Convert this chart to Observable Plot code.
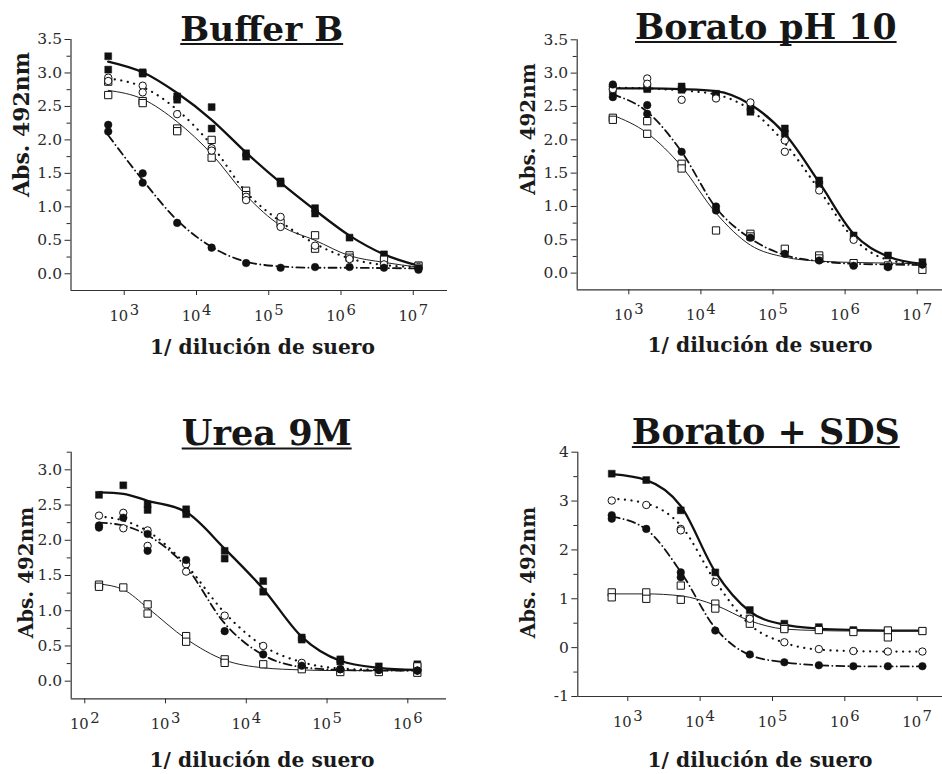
<!DOCTYPE html>
<html>
<head>
<meta charset="utf-8">
<script src="https://cdn.jsdelivr.net/npm/d3@7"></script>
<script src="https://cdn.jsdelivr.net/npm/@observablehq/plot@0.6"></script>
<style>
  html, body { margin: 0; padding: 0; background: #fff; }
  #root { position: relative; width: 942px; height: 774px; overflow: hidden; background: #fff; }
  .panel { position: absolute; }
  .panel svg { display: block; max-width: none !important; }
  #overlay { position: absolute; left: 0; top: 0; pointer-events: none; }
</style>
</head>
<body>
<div id="root"></div>
<script>
// ---------------- DATA ----------------
const dilution = [600, 1800, 5400, 16200, 48600, 145800, 437400, 1312200, 3936600, 11809800];
const dilutionUrea = [150, 300, 600, 1800, 5400, 16200, 48600, 145800, 437400, 1312200];

const xTicks = [1e3, 1e4, 1e5, 1e6, 1e7];
const xTicksUrea = [1e2, 1e3, 1e4, 1e5, 1e6];
const yTicksMain = [0, 0.5, 1, 1.5, 2, 2.5, 3, 3.5];
const yMinorMain = [0.25, 0.75, 1.25, 1.75, 2.25, 2.75, 3.25];
const yTicksUrea = [0, 0.5, 1, 1.5, 2, 2.5, 3];
const yMinorUrea = [0.25, 0.75, 1.25, 1.75, 2.25, 2.75, 3.25];
const yTicksSDS = [-1, 0, 1, 2, 3, 4];
const yMinorSDS = [-0.5, 0.5, 1.5, 2.5, 3.5];

const titles = ["Buffer B", "Borato pH 10", "Urea 9M", "Borato + SDS"];
const xLabel = "1/ dilución de suero";
const yLabel = "Abs. 492nm";

// Buffer B — replicate readings per dilution, and the fitted curve read at each dilution
const bufB_filledSq = [[3.25, 3.05], [3.01, 2.99], [2.65, 2.6], [2.49, 2.17], [1.8, 1.75], [1.38, 1.35], [0.98, 0.9], [0.54], [0.29], [0.125]];
const bufB_filledSq_fit = [3.17, 3.01, 2.7, 2.3, 1.81, 1.36, 0.95, 0.57, 0.29, 0.12];
const bufB_openCir = [[2.93, 2.88], [2.81, 2.71], [2.385], [1.875, 1.84], [1.15, 1.1], [0.85, 0.7], [0.42], [0.22], [0.14], [0.1]];
const bufB_openCir_fit = [2.92, 2.79, 2.45, 1.92, 1.22, 0.78, 0.45, 0.23, 0.13, 0.1];
const bufB_openSq = [[2.87, 2.67], [2.58, 2.55], [2.17, 2.13], [2.0, 1.735], [1.24, 1.175], [0.76], [0.575, 0.375], [0.275, 0.24], [0.21], [0.12]];
const bufB_openSq_fit = [2.74, 2.61, 2.27, 1.79, 1.17, 0.72, 0.5, 0.27, 0.17, 0.1];
const bufB_filledCir = [[2.225, 2.125], [1.5, 1.36], [0.76], [0.39], [0.16], [0.09], [0.1], [0.1], [0.09], [0.08, 0.06]];
const bufB_filledCir_fit = [2.07, 1.4, 0.8, 0.4, 0.18, 0.11, 0.09, 0.09, 0.085, 0.08];

// Borato pH 10
const borato_filledSq = [[2.78, 2.72], [2.78, 2.76], [2.8, 2.75], [2.69, 2.66], [2.49, 2.42], [2.17, 2.09], [1.39, 1.33], [0.565], [0.265], [0.165]];
const borato_filledSq_fit = [2.77, 2.77, 2.76, 2.73, 2.53, 2.09, 1.36, 0.59, 0.25, 0.14];
const borato_openCir = [[2.8, 2.76], [2.92, 2.84], [2.6], [2.62], [2.56], [1.99, 1.82], [1.24], [0.5], [0.09], [0.13]];
const borato_openCir_fit = [2.78, 2.77, 2.74, 2.68, 2.45, 1.95, 1.25, 0.52, 0.2, 0.13];
const borato_openSq = [[2.33, 2.3], [2.28, 2.09], [1.64, 1.57], [0.64], [0.59, 0.55], [0.365], [0.265, 0.22], [0.15], [0.115], [0.05]];
const borato_openSq_fit = [2.37, 2.1, 1.6, 0.9, 0.42, 0.24, 0.18, 0.16, 0.15, 0.14];
const borato_filledCir = [[2.83, 2.64], [2.52, 2.39], [1.82], [1.0, 0.94], [0.53], [0.29], [0.19], [0.11], [0.1], [0.13]];
const borato_filledCir_fit = [2.68, 2.42, 1.82, 0.98, 0.52, 0.27, 0.18, 0.14, 0.13, 0.12];

// Urea 9M
const urea_filledSq = [[2.645], [2.78], [2.51, 2.43], [2.44, 2.37], [1.85, 1.74], [1.42, 1.27], [0.62, 0.59], [0.31, 0.28], [0.21], [0.24, 0.2]];
const urea_filledSq_fit = [2.68, 2.66, 2.56, 2.4, 1.88, 1.31, 0.63, 0.29, 0.19, 0.16];
const urea_openCir = [[2.35], [2.39, 2.17], [2.14, 1.92], [1.66, 1.555], [0.93], [0.5], [0.26], [0.17], [0.16], [0.15]];
const urea_openCir_fit = [2.34, 2.28, 2.13, 1.65, 0.97, 0.5, 0.27, 0.18, 0.16, 0.15];
const urea_openSq = [[1.37, 1.34], [1.33], [1.09, 0.96], [0.64, 0.56], [0.31, 0.26], [0.24], [0.17], [0.13], [0.13], [0.21, 0.12]];
const urea_openSq_fit = [1.38, 1.3, 1.04, 0.6, 0.3, 0.19, 0.16, 0.15, 0.15, 0.15];
const urea_filledCir = [[2.21, 2.18], [2.32], [2.09, 1.85], [1.72], [0.71], [0.38], [0.22], [0.17], [0.16], [0.15]];
const urea_filledCir_fit = [2.25, 2.21, 2.07, 1.62, 0.82, 0.37, 0.2, 0.16, 0.15, 0.15];

// Borato + SDS
const sds_filledSq = [[3.56], [3.43], [2.81], [1.54], [0.77], [0.49], [0.42], [0.36], [0.35], [0.34]];
const sds_filledSq_fit = [3.55, 3.43, 2.9, 1.55, 0.74, 0.47, 0.39, 0.36, 0.35, 0.35];
const sds_openCir = [[3.01], [2.92], [2.43, 2.4], [1.34], [0.59], [0.11], [-0.03], [-0.07], [-0.08], [-0.08]];
const sds_openCir_fit = [3.05, 2.95, 2.5, 1.36, 0.47, 0.1, -0.04, -0.07, -0.08, -0.08];
const sds_openSq = [[1.13, 1.03], [1.13, 1.0], [1.27, 0.98], [0.9, 0.8], [0.59, 0.49], [0.41, 0.38], [0.36], [0.32], [0.35, 0.21], [0.34]];
const sds_openSq_fit = [1.1, 1.1, 1.06, 0.87, 0.55, 0.38, 0.35, 0.34, 0.34, 0.34];
const sds_filledCir = [[2.71, 2.64], [2.43], [1.54, 1.44], [0.35], [-0.14], [-0.3], [-0.36], [-0.38], [-0.38], [-0.38]];
const sds_filledCir_fit = [2.68, 2.42, 1.55, 0.4, -0.15, -0.3, -0.36, -0.38, -0.385, -0.385];

// ---------------- FONT PICK (first installed serif face) ----------------
const ctx = document.createElement("canvas").getContext("2d");
function pickSerif() {
  const cands = ["DejaVu Serif", "Liberation Serif", "Tinos", "Nimbus Roman", "FreeSerif", "Noto Serif"];
  const probe = "AbgBorato 0123456789 dilución WMmil";
  const widthWith = f => { ctx.font = "bold 40px " + f; return ctx.measureText(probe).width; };
  const bases = ["monospace", "sans-serif"].map(widthWith);
  for (const name of cands) {
    const ws = ["monospace", "sans-serif"].map(b => widthWith(`"${name}", ${b}`));
    if (ws.every((w, i) => Math.abs(w - bases[i]) > 0.01)) return `"${name}"`;
  }
  return "serif";
}
const FONT = pickSerif() + ", serif";
// size that gives a text the width it has in the reference
function fitSize(str, targetWidth, weight) {
  ctx.font = `${weight} 100px ${FONT}`;
  return 100 * targetWidth / ctx.measureText(str).width;
}
const tickSize = fitSize("0123456789", 10 * 9.4, "normal");

// ---------------- STYLES / LAYOUT ----------------
const INK = "#111";
const seriesStyle = {
  filledSquare: { line: { stroke: INK, strokeWidth: 2.3 }, dot: { symbol: "square", r: 3.9, fill: INK, stroke: INK, strokeWidth: 0.5 } },
  openSquare:   { line: { stroke: "#222", strokeWidth: 1 }, dot: { symbol: "square", r: 4.1, fill: "white", stroke: INK, strokeWidth: 1 } },
  openCircle:   { line: { stroke: INK, strokeWidth: 2.2, strokeDasharray: "0.1,6.5", strokeLinecap: "round" }, dot: { symbol: "circle", r: 3.7, fill: "white", stroke: INK, strokeWidth: 1 } },
  filledCircle: { line: { stroke: INK, strokeWidth: 1.8, strokeDasharray: "8,4,0.1,4", strokeLinecap: "round" }, dot: { symbol: "circle", r: 3.8, fill: INK, stroke: INK, strokeWidth: 0.5 } }
};
const drawOrder = ["filledSquare", "openSquare", "openCircle", "filledCircle"];

const panels = [
  { title: titles[0], x: dilution, xTicks, yTicks: yTicksMain, yMinor: yMinorMain,
    xDomain: [10 ** 2.263, 10 ** 7.474], yDomain: [-0.25, 3.5],
    box: { left: 0, top: 0, width: 470, height: 370 }, margin: { left: 70.5, right: 23, top: 39, bottom: 80 },
    series: { filledSquare: [bufB_filledSq, bufB_filledSq_fit], openCircle: [bufB_openCir, bufB_openCir_fit], openSquare: [bufB_openSq, bufB_openSq_fit], filledCircle: [bufB_filledCir, bufB_filledCir_fit] },
    text: { titleX: 261.7, titleBase: 40.5, titleW: 163, xLabX: 262.5, xLabBase: 354, yLabX: 29.3, yLabY: 124.5, yLabW: 145 } },
  { title: titles[1], x: dilution, xTicks, yTicks: yTicksMain, yMinor: yMinorMain,
    xDomain: [10 ** 2.284, 10 ** 7.351], yDomain: [-0.25, 3.5],
    box: { left: 470, top: 0, width: 472, height: 370 }, margin: { left: 106.7, right: 0, top: 39.3, bottom: 80.7 },
    series: { filledSquare: [borato_filledSq, borato_filledSq_fit], openCircle: [borato_openCir, borato_openCir_fit], openSquare: [borato_openSq, borato_openSq_fit], filledCircle: [borato_filledCir, borato_filledCir_fit] },
    text: { titleX: 765.8, titleBase: 38.5, titleW: 261.7, xLabX: 760, xLabBase: 352.3, yLabX: 535, yLabY: 129, yLabW: 131.6 } },
  { title: titles[2], x: dilutionUrea, xTicks: xTicksUrea, yTicks: yTicksUrea, yMinor: yMinorUrea,
    xDomain: [10 ** 1.832, 10 ** 6.479], yDomain: [-0.25, 3.25],
    box: { left: 0, top: 390, width: 470, height: 384 }, margin: { left: 70.7, right: 24, top: 61.7, bottom: 75.7 },
    series: { filledSquare: [urea_filledSq, urea_filledSq_fit], openCircle: [urea_openCir, urea_openCir_fit], openSquare: [urea_openSq, urea_openSq_fit], filledCircle: [urea_filledCir, urea_filledCir_fit] },
    text: { titleX: 266.7, titleBase: 445, titleW: 170, xLabX: 262, xLabBase: 766.5, yLabX: 33.3, yLabY: 572.5, yLabW: 131.6 } },
  { title: titles[3], x: dilution, xTicks, yTicks: yTicksSDS, yMinor: yMinorSDS,
    xDomain: [10 ** 2.309, 10 ** 7.35], yDomain: [-1, 4],
    box: { left: 470, top: 390, width: 472, height: 384 }, margin: { left: 107.3, right: 0, top: 61.7, bottom: 78 },
    series: { filledSquare: [sds_filledSq, sds_filledSq_fit], openCircle: [sds_openCir, sds_openCir_fit], openSquare: [sds_openSq, sds_openSq_fit], filledCircle: [sds_filledCir, sds_filledCir_fit] },
    text: { titleX: 765.8, titleBase: 443.5, titleW: 268, xLabX: 760, xLabBase: 767, yLabX: 535, yLabY: 572.5, yLabW: 131.6 } }
];

const root = document.getElementById("root");
root.style.fontFamily = FONT;
const SVGNS = "http://www.w3.org/2000/svg";

function yFmt(p) {
  return p.yDomain[0] === -1 ? (d => String(d)) : d3.format(".1f");
}

for (const p of panels) {
  const lineMarks = [], dotMarks = [];
  for (const key of drawOrder) {
    const [pts, fit] = p.series[key];
    const st = seriesStyle[key];
    const fitData = fit.map((v, i) => ({ x: p.x[i], y: v }));
    const ptData = pts.flatMap((reps, i) => reps.map(v => ({ x: p.x[i], y: v })));
    lineMarks.push(Plot.line(fitData, { x: "x", y: "y", curve: "monotone-x", ...st.line }));
    dotMarks.push(Plot.dot(ptData, { x: "x", y: "y", ...st.dot }));
  }
  const svg = Plot.plot({
    width: p.box.width,
    height: p.box.height,
    marginLeft: p.margin.left,
    marginRight: p.margin.right,
    marginTop: p.margin.top,
    marginBottom: p.margin.bottom,
    style: { fontFamily: FONT, fontSize: tickSize + "px", color: "#2a2a2a", background: "transparent", overflow: "visible" },
    x: { type: "log", domain: p.xDomain },
    y: { domain: p.yDomain },
    marks: [
      Plot.axisY({ ticks: p.yMinor, tickSize: 4, tickFormat: () => "", label: null, strokeWidth: 1 }),
      Plot.axisY({ ticks: p.yTicks, tickSize: 6, tickPadding: 3, tickFormat: yFmt(p), label: null, fontSize: tickSize * 1.05, fontFamily: FONT, strokeWidth: 1 }),
      Plot.axisX({ ticks: p.xTicks, tickSize: 5, tickPadding: 15, tickFormat: d => "10^" + Math.round(Math.log10(d)), label: null, fontSize: tickSize, fontFamily: FONT, strokeWidth: 1 }),
      Plot.ruleX([p.xDomain[0]], { stroke: "#333", strokeWidth: 1.2 }),
      Plot.ruleY([p.yDomain[0]], { stroke: "#333", strokeWidth: 1.2 }),
      ...lineMarks,
      ...dotMarks
    ]
  });
  // superscript exponents on the x tick labels
  svg.querySelectorAll('g[aria-label="x-axis tick label"] text').forEach(t => {
    const s = t.textContent;
    const m = s.match(/^10\^(-?\d+)$/);
    if (!m) return;
    t.textContent = "";
    const base = document.createElementNS(SVGNS, "tspan");
    base.textContent = "10";
    const sup = document.createElementNS(SVGNS, "tspan");
    sup.setAttribute("dy", "-6");
    sup.setAttribute("dx", "1.5");
    sup.textContent = m[1];
    t.appendChild(base);
    t.appendChild(sup);
  });
  const div = document.createElement("div");
  div.className = "panel";
  div.style.left = p.box.left + "px";
  div.style.top = p.box.top + "px";
  div.style.width = p.box.width + "px";
  div.style.height = p.box.height + "px";
  div.appendChild(svg);
  root.appendChild(div);
}

// titles and axis titles
const ov = document.createElementNS(SVGNS, "svg");
ov.setAttribute("id", "overlay");
ov.setAttribute("width", 942);
ov.setAttribute("height", 774);
ov.style.fontFamily = FONT;
root.appendChild(ov);

function addText(str, x, y, size, opts = {}) {
  const t = document.createElementNS(SVGNS, "text");
  t.setAttribute("x", x);
  t.setAttribute("y", y);
  t.style.fontFamily = FONT;
  t.setAttribute("font-size", size);
  t.setAttribute("font-weight", "bold");
  t.setAttribute("text-anchor", "middle");
  t.setAttribute("fill", opts.fill || "#1a1a1a");
  if (opts.transform) t.setAttribute("transform", opts.transform);
  t.textContent = str;
  ov.appendChild(t);
  return t;
}

for (const p of panels) {
  const T = p.text;
  const t = addText(p.title, T.titleX, T.titleBase, fitSize(p.title, T.titleW, "bold"), { fill: "#161616" });
  const w = t.getComputedTextLength();
  const u = document.createElementNS(SVGNS, "line");
  u.setAttribute("x1", T.titleX - w / 2);
  u.setAttribute("x2", T.titleX + w / 2);
  u.setAttribute("y1", T.titleBase + 3.5);
  u.setAttribute("y2", T.titleBase + 3.5);
  u.setAttribute("stroke", "#161616");
  u.setAttribute("stroke-width", 2);
  ov.appendChild(u);
  addText(xLabel, T.xLabX, T.xLabBase, fitSize(xLabel, 225, "bold"));
  addText(yLabel, 0, 0, fitSize(yLabel, T.yLabW, "bold"), { transform: `translate(${T.yLabX},${T.yLabY}) rotate(-90)` });
}
</script>
</body>
</html>
